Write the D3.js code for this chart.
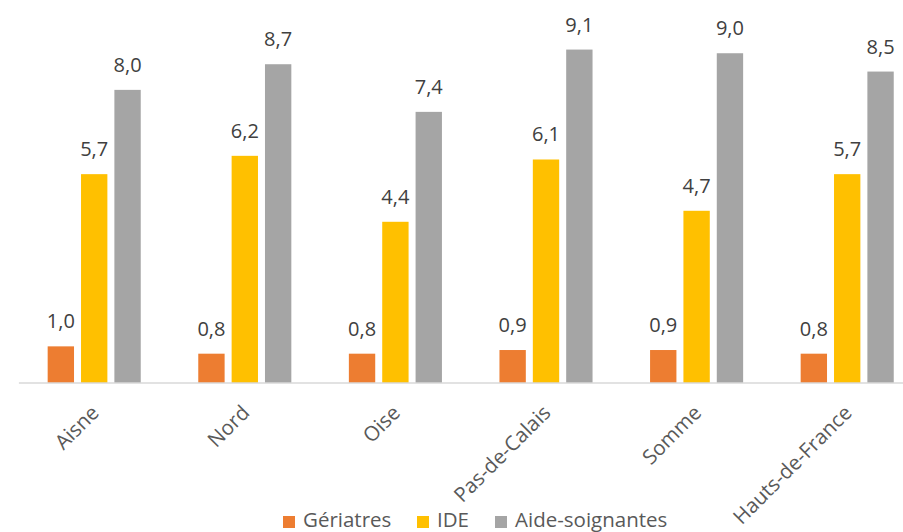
<!DOCTYPE html>
<html><head><meta charset="utf-8">
<script src="https://cdn.jsdelivr.net/npm/d3@7"></script>
<style>body{margin:0;background:#fff;}svg{display:block;font-family:"Open Sans",sans-serif;}</style>
</head><body>
<svg id="c" width="903" height="532"></svg>
<script>
const categories = ["Aisne","Nord","Oise","Pas-de-Calais","Somme","Hauts-de-France"];
const seriesNames = ["Gériatres","IDE","Aide-soignantes"];
const geriatres = [1.0,0.8,0.8,0.9,0.9,0.8];
const ide = [5.7,6.2,4.4,6.1,4.7,5.7];
const aides = [8.0,8.7,7.4,9.1,9.0,8.5];
const colors = ["#ED7D31","#FFC000","#A5A5A5"];

const seriesValues = [geriatres, ide, aides];
const svg = d3.select("#c");
const x0 = d3.scaleBand().domain(categories).range([18.9,922.5]).paddingInner(0.382).paddingOuter(0.191);
const x1 = d3.scaleBand().domain(seriesNames).range([0,x0.bandwidth()]).paddingInner(0.21);
const y = d3.scaleLinear().domain([0,10]).range([383,16.6]);
const fmt = v => d3.format(".1f")(v).replace(".",",");

const g = svg.append("g");
categories.forEach((c,i)=>{
  const gg = g.append("g").attr("transform",`translate(${x0(c)},0)`);
  seriesNames.forEach((s,j)=>{
    const v = seriesValues[j][i];
    gg.append("rect").attr("x",x1(s)).attr("width",x1.bandwidth())
      .attr("y",y(v)).attr("height",y(0)-y(v)).attr("fill",colors[j]);
    gg.append("text").attr("x",x1(s)+x1.bandwidth()/2).attr("y",y(v)-18)
      .attr("text-anchor","middle").attr("font-size",20).attr("fill","#404040").text(fmt(v));
  });
});
svg.append("line").attr("x1",18.9).attr("x2",903).attr("y1",383).attr("y2",383)
  .attr("stroke","#D9D9D9").attr("stroke-width",1.5);

const xa = svg.append("g").attr("transform","translate(0,383)")
  .call(d3.axisBottom(x0).tickSize(0).tickPadding(0));
xa.select(".domain").remove();
xa.selectAll("text").attr("font-size",20.5).attr("fill","#595959").attr("font-family","Open Sans")
  .attr("text-anchor","end").attr("dy",0).attr("transform","translate(6,31) rotate(-45)");

const legend = svg.append("g");
const legX = [283, 417, 495];
seriesNames.forEach((s,j)=>{
  legend.append("rect").attr("x",legX[j]).attr("y",516).attr("width",12).attr("height",12).attr("fill",colors[j]);
  legend.append("text").attr("x",legX[j]+20).attr("y",527).attr("font-size",20.5).attr("fill","#595959").text(s);
});
</script>
</body></html>
